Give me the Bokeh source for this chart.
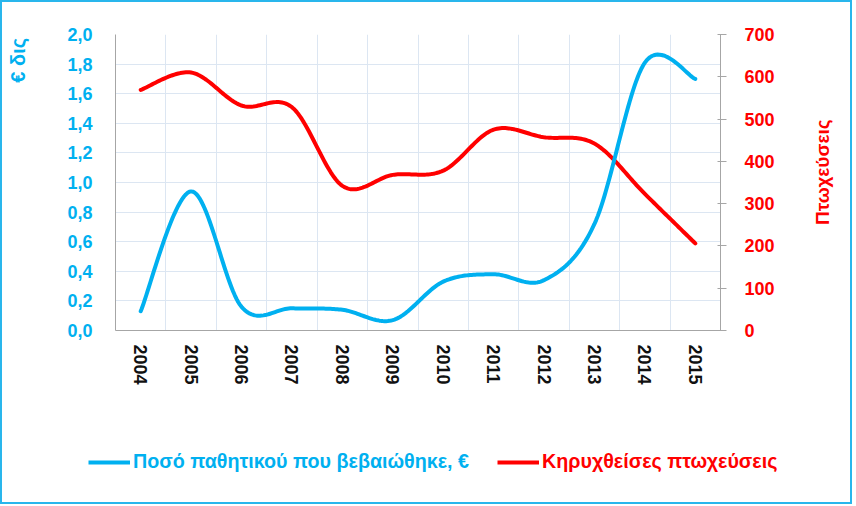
import math
import numpy as np
from bokeh.plotting import figure
from bokeh.models import (Range1d, LinearAxis, FixedTicker, CustomJSTickFormatter,
                          Legend, LegendItem)
from bokeh.embed import file_html
from bokeh.resources import INLINE

# ---------------- data ----------------
years = ["2004", "2005", "2006", "2007", "2008", "2009",
         "2010", "2011", "2012", "2013", "2014", "2015"]
liabilities_bn = [0.13, 0.94, 0.16, 0.15, 0.14, 0.07, 0.33, 0.38, 0.34, 0.72, 1.81, 1.70]
bankruptcies = [569, 610, 532, 528, 342, 368, 378, 475, 457, 442, 323, 206]
left_ticks = [0.0, 0.2, 0.4, 0.6, 0.8, 1.0, 1.2, 1.4, 1.6, 1.8, 2.0]
right_ticks = [0, 100, 200, 300, 400, 500, 600, 700]
series_names = ["Ποσό παθητικού που βεβαιώθηκε, €", "Κηρυχθείσες πτωχεύσεις"]
left_title = "€ δις"
right_title = "Πτωχεύσεις"

BLUE = "#00B0F0"
RED = "#FF0000"
FONT = "Liberation Sans"
BORDER = "2px solid #29B6EC"
NB = "\u00a0"


def smooth(vals, steps=30):
    """Excel-like smoothed line: Catmull-Rom cubic Bezier through the points."""
    x = np.arange(len(vals), dtype=float)
    y = np.asarray(vals, dtype=float)
    xp = np.concatenate([[x[0]], x, [x[-1]]])
    yp = np.concatenate([[y[0]], y, [y[-1]]])
    t = np.linspace(0, 1, steps, endpoint=False)
    ox, oy = [], []
    for i in range(len(y) - 1):
        for P, out in ((xp, ox), (yp, oy)):
            p0, p1, p2, p3 = P[i], P[i + 1], P[i + 2], P[i + 3]
            c1 = p1 + (p2 - p0) / 6.0
            c2 = p2 - (p3 - p1) / 6.0
            b = (1 - t) ** 3 * p1 + 3 * (1 - t) ** 2 * t * c1 + 3 * (1 - t) * t ** 2 * c2 + t ** 3 * p2
            out.extend(b.tolist())
    ox.append(x[-1])
    oy.append(y[-1])
    return ox, oy


p = figure(width=852, height=410, output_backend="svg", toolbar_location=None,
           x_range=Range1d(-0.5, len(years) - 0.5), y_range=Range1d(0, 2.0),
           min_border_left=113, min_border_right=134, min_border_top=32, min_border_bottom=82)
p.outline_line_color = None
p.background_fill_color = "white"
p.border_fill_color = "white"
p.styles = {"border": BORDER, "border-bottom": "none", "background-color": "white"}

# grids
p.xgrid.ticker = FixedTicker(ticks=[i + 0.5 for i in range(len(years) - 1)])
p.ygrid.ticker = FixedTicker(ticks=left_ticks)
for g in (p.xgrid[0], p.ygrid[0]):
    g.grid_line_color = "#DCE6F2"
    g.grid_line_width = 1

# left axis
la = p.left[0]
la.ticker = FixedTicker(ticks=left_ticks)
la.formatter = CustomJSTickFormatter(code="return tick.toFixed(1).replace('.', ',');")
la.major_tick_in = 0
la.major_tick_out = 0
la.minor_tick_in = 0
la.minor_tick_out = 0
la.major_label_standoff = 23
la.axis_line_color = "#A6A6A6"
la.major_label_text_color = BLUE
la.major_label_text_font = FONT
la.major_label_text_font_style = "bold"
la.major_label_text_font_size = "18px"
# title sits at the top of the axis: pad its (bottom) start with no-break spaces
la.axis_label = NB * 44 + left_title
la.axis_label_standoff = 35
la.axis_label_text_color = BLUE
la.axis_label_text_font = FONT
la.axis_label_text_font_style = "bold"
la.axis_label_text_font_size = "20px"

# bottom axis
ba = p.below[0]
ba.ticker = FixedTicker(ticks=list(range(len(years))))
ba.major_label_overrides = {i: y for i, y in enumerate(years)}
ba.major_label_orientation = -math.pi / 2
ba.major_tick_in = 0
ba.major_tick_out = 0
ba.minor_tick_in = 0
ba.minor_tick_out = 0
ba.major_label_standoff = 14
ba.axis_line_color = "#A6A6A6"
ba.major_label_text_color = "#111111"
ba.major_label_text_font = FONT
ba.major_label_text_font_style = "bold"
ba.major_label_text_font_size = "18px"

# right axis
p.extra_y_ranges = {"cnt": Range1d(0, 700)}
ra = LinearAxis(y_range_name="cnt", ticker=FixedTicker(ticks=right_ticks))
ra.major_tick_in = 3
ra.major_tick_out = 6
ra.minor_tick_in = 0
ra.minor_tick_out = 0
ra.major_tick_line_color = "#A6A6A6"
ra.axis_line_color = "#A6A6A6"
ra.major_label_standoff = 18
ra.major_label_text_color = RED
ra.major_label_text_font = FONT
ra.major_label_text_font_style = "bold"
ra.major_label_text_font_size = "18px"
ra.axis_label = NB * 20 + right_title
ra.axis_label_orientation = math.pi / 2
ra.axis_label_standoff = 45
if "axis_label_align" in ra.properties():
    ra.axis_label_align = "start"
ra.axis_label_text_align = "center"
ra.axis_label_text_baseline = "middle"
ra.axis_label_text_color = RED
ra.axis_label_text_font = FONT
ra.axis_label_text_font_style = "bold"
ra.axis_label_text_font_size = "19px"
p.add_layout(ra, "right")

# lines
bx, by = smooth(liabilities_bn)
rx, ry = smooth(bankruptcies)
r_red = p.line(rx, ry, y_range_name="cnt", line_color=RED, line_width=4,
               line_join="round", line_cap="round")
r_blue = p.line(bx, by, line_color=BLUE, line_width=4,
                line_join="round", line_cap="round")

# ---------------- legend strip (separate root below the chart) ----------------
q = figure(width=852, height=94, output_backend="svg", toolbar_location=None,
           x_axis_location=None, y_axis_location=None,
           x_range=Range1d(-0.5, len(years) - 0.5), y_range=Range1d(0, 2.0),
           min_border=0, min_border_left=0, min_border_right=0,
           min_border_top=0, min_border_bottom=0)
q.outline_line_color = None
q.background_fill_color = "white"
q.border_fill_color = "white"
q.xgrid.visible = False
q.ygrid.visible = False
q.styles = {"border": BORDER, "border-top": "none", "background-color": "white"}

for name, vals, col, loc in ((series_names[0], liabilities_bn, BLUE, (86, 31)),
                             (series_names[1], bankruptcies, RED, (495, 31))):
    proxy = q.line(x=list(range(len(years))), y=vals, line_color=col, line_width=4,
                   line_cap="butt", visible=False)
    lg = Legend(items=[LegendItem(label=name, renderers=[proxy])],
                location=loc, orientation="horizontal",
                label_text_color=col, label_text_font=FONT,
                label_text_font_style="bold", label_text_font_size="19.7px",
                glyph_width=42, glyph_height=20, label_height=20,
                label_standoff=3, padding=0, margin=0, spacing=0,
                border_line_color=None, background_fill_alpha=0)
    q.add_layout(lg)

open("out.html", "w").write(file_html([p, q], INLINE))
